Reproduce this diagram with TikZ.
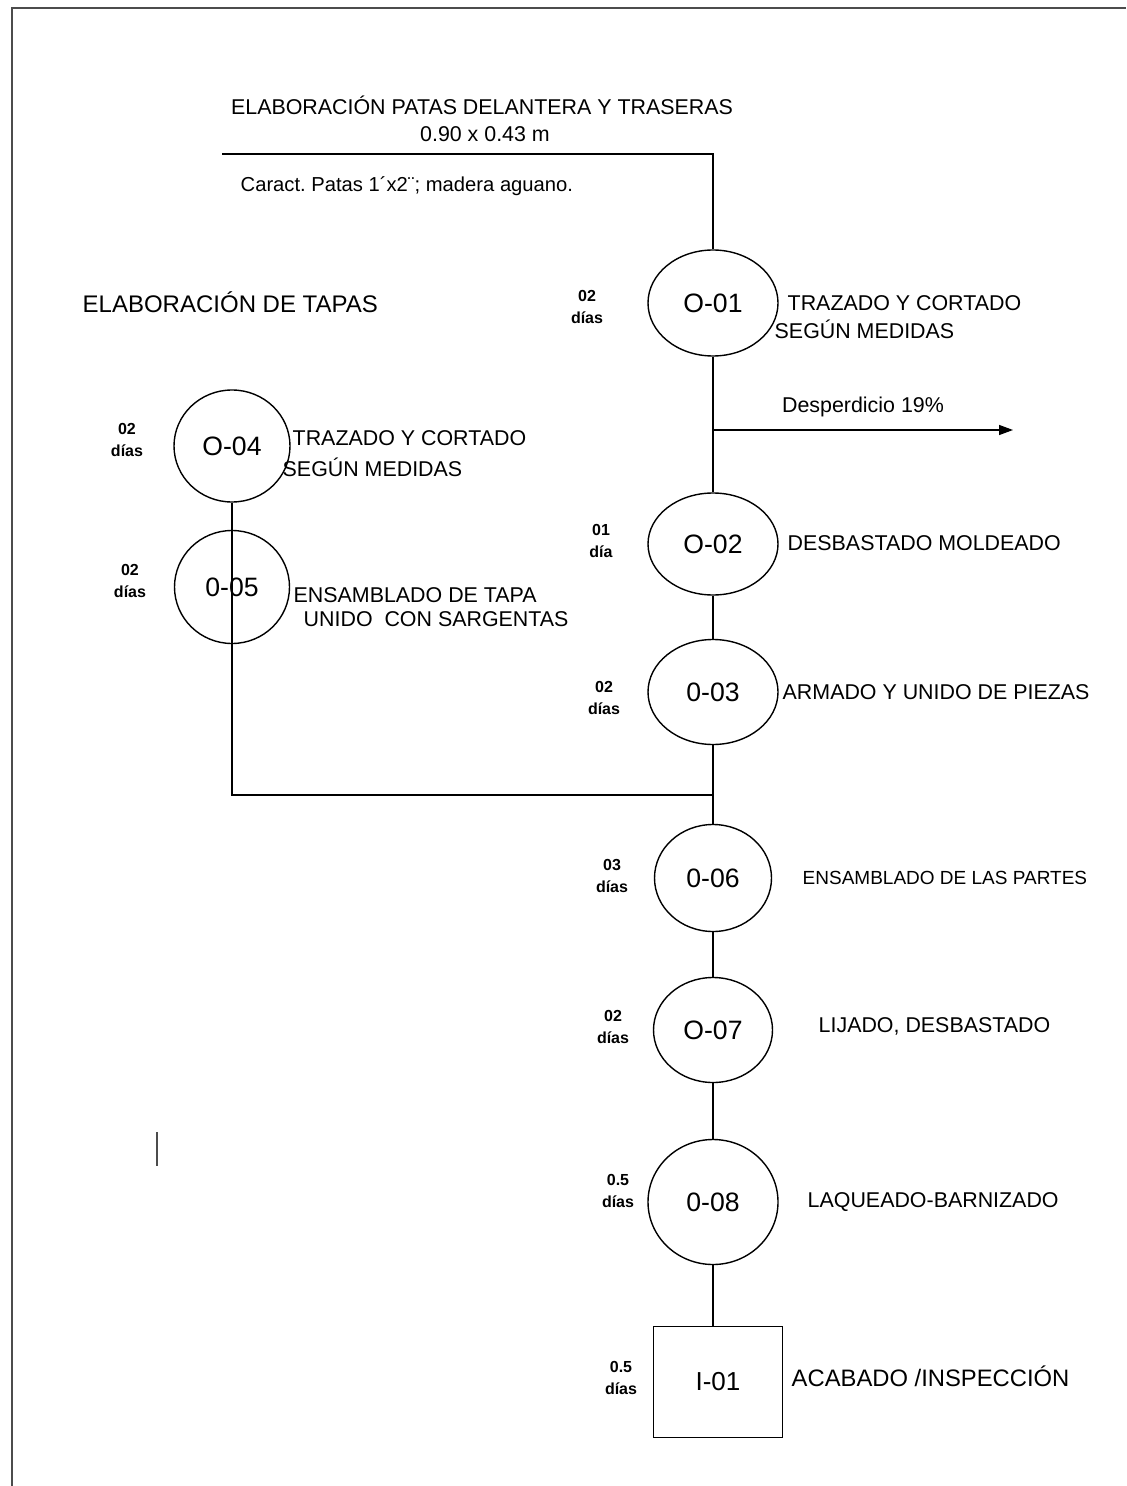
\documentclass[tikz,border=0pt]{standalone}
\usepackage{fontspec}
\setmainfont{Liberation Sans}
\usetikzlibrary{shapes.geometric, arrows.meta}
\frenchspacing

\begin{document}
\begin{tikzpicture}[x=0.5pt, y=-0.5pt, line width=0.7pt,
    every node/.style={inner sep=0pt, font=\fontsize{10.7}{13}\selectfont},
    opnode/.style={draw, ellipse, minimum width=65pt, minimum height=53pt, font=\fontsize{13.3}{16}\selectfont},
    inspnode/.style={draw, rectangle, minimum width=64.5pt, minimum height=55.5pt, font=\fontsize{13}{16}\selectfont},
    desc/.style={anchor=west},
    dias/.style={align=center, font=\bfseries\fontsize{8}{11}\selectfont}]
    % 0. marco de la hoja
    \useasboundingbox (0,0) rectangle (1126,1486);
    \draw[black!70, line width=1pt] (12,1486) -- (12,8) -- (1126,8);

    % 1. titulos y notas
    \node (titulo) at (482,105) {ELABORACIÓN PATAS DELANTERA Y TRASERAS};
    \node (medida) at (485,134) {0.90 x 0.43 m};
    \node[desc, font=\fontsize{10.1}{12}\selectfont] (caract) at (240,186) {Caract. Patas 1´x2¨; madera aguano.};
    \node[desc, font=\fontsize{12}{14}\selectfont] (tapas) at (82,302) {ELABORACIÓN DE TAPAS};

    % 2. operaciones de la linea principal (patas)
    \node[opnode] (o1) at (713,303) {O-01};
    \node[opnode, minimum height=51pt] (o2) at (713,544) {O-02};
    \node[opnode, minimum height=52.5pt] (o3) at (713,692) {0-03};
    \node[opnode, minimum width=58.5pt, minimum height=53.5pt] (o6) at (713,878) {0-06};
    \node[opnode, minimum width=59.5pt, minimum height=52.5pt] (o7) at (713,1030) {O-07};
    \node[opnode, minimum height=62.5pt] (o8) at (713,1202) {0-08};
    \node[inspnode] (i1) at (718,1382) {I-01};

    % 3. operaciones de las tapas
    \node[opnode, minimum width=58pt, minimum height=56pt] (o4) at (232,446) {O-04};
    \node[opnode, minimum width=57.5pt, minimum height=56.5pt] (o5) at (232,587) {0-05};

    % 4. tiempos
    \node[dias] (t1) at (587,307) {02\\días};
    \node[dias] (t2) at (601,541) {01\\día};
    \node[dias] (t3) at (604,698) {02\\días};
    \node[dias] (t4) at (127,440) {02\\días};
    \node[dias] (t5) at (130,581) {02\\días};
    \node[dias] (t6) at (612,876) {03\\días};
    \node[dias] (t7) at (613,1027) {02\\días};
    \node[dias] (t8) at (618,1191) {0.5\\días};
    \node[dias] (t9) at (621,1378) {0.5\\días};

    % 5. descripciones
    \node[desc] (d1a) at (787,303) {TRAZADO Y CORTADO};
    \node[desc] (d1b) at (774,329) {SEGÚN MEDIDAS};
    \node[desc] (d2) at (787,543) {DESBASTADO MOLDEADO};
    \node[desc] (d3) at (782,692) {ARMADO Y UNIDO DE PIEZAS};
    \node[desc] (d4a) at (292,438) {TRAZADO Y CORTADO};
    \node[desc] (d4b) at (282,467) {SEGÚN MEDIDAS};
    \node[desc] (d5a) at (293,595) {ENSAMBLADO DE TAPA};
    \node[desc] (d5b) at (303,619) {UNIDO\ \ CON SARGENTAS};
    \node[desc, font=\fontsize{9.5}{12}\selectfont] (d6) at (802,878) {ENSAMBLADO DE LAS PARTES};
    \node[desc] (d7) at (818,1026) {LIJADO, DESBASTADO};
    \node[desc] (d8) at (807,1202) {LAQUEADO-BARNIZADO};
    \node[desc, font=\fontsize{11.9}{14}\selectfont] (d9) at (791,1376) {ACABADO /INSPECCIÓN};

    % 6. conexiones
    \coordinate (patas) at (222,154);
    \coordinate (desde) at (713,430);
    \coordinate (hasta) at (1013,430);
    \coordinate (union) at (713,795);
    \draw (patas) -| (o1);
    \draw (o1) -- (o2);
    \draw[-{Triangle[length=7pt, width=5pt]}] (desde) -- (hasta)
        node[midway, above=6pt] {Desperdicio 19\%};
    \draw (o2) -- (o3);
    \draw (o3) -- (union) -- (o6);
    \draw (o4) |- (union);
    \draw (o6) -- (o7);
    \draw (o7) -- (o8);
    \draw (o8) -- (o8.south |- i1.north);

    % 7. marca suelta
    \draw[black!70] (157,1132) -- (157,1166);
\end{tikzpicture}
\end{document}
